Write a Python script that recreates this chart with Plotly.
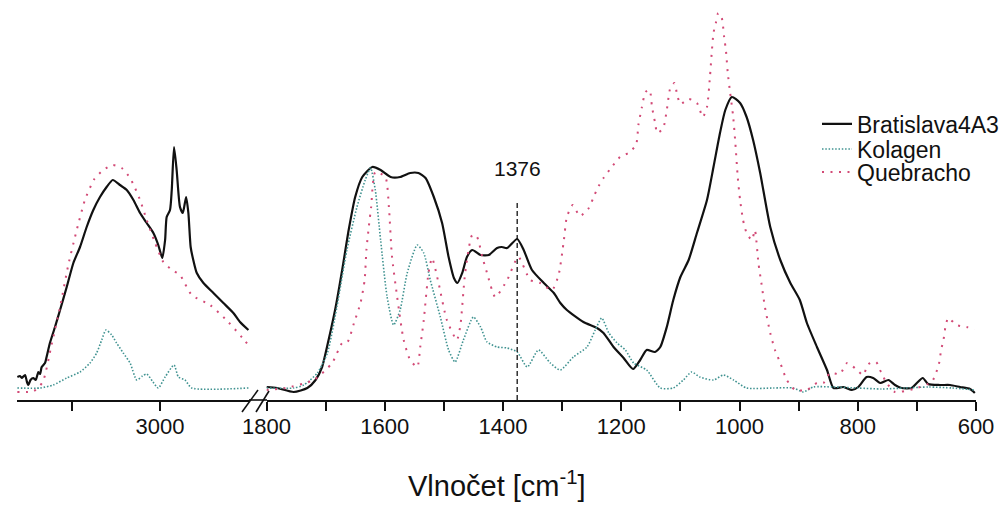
import plotly.graph_objects as go

# ---------------- data (wavenumber cm-1, intensity a.u.) ----------------
# High-wavenumber window (left panel)
bratislava_hi_wn = [3815, 3800, 3790, 3771, 3760, 3752, 3740, 3724, 3710, 3695, 3685, 3676, 3657,
                    3648, 3629, 3600, 3571, 3533, 3495, 3457, 3419, 3381, 3343, 3305, 3270,
                    3229, 3190, 3152, 3114, 3076, 3038, 3010, 2987, 2971, 2962, 2943, 2933,
                    2920, 2905, 2886, 2870, 2851, 2838, 2825, 2810, 2790, 2752, 2695, 2638,
                    2581, 2543, 2495]
bratislava_hi = [23, 24, 22, 25, 18, 15, 20, 22, 20, 28, 26, 33, 37,
                 43, 57, 73, 90, 113, 137, 153, 173, 190, 203, 213, 220,
                 215, 210, 200, 187, 177, 167, 155, 142, 160, 183, 190, 210,
                 253, 230, 193, 187, 203, 187, 153, 140, 127, 117, 107, 97,
                 87, 78, 70]

kolagen_hi_wn = [3815, 3686, 3610, 3533, 3457, 3400, 3362, 3333, 3309, 3276, 3248, 3210,
                 3171, 3133, 3100, 3076, 3040, 3010, 2971, 2920, 2895, 2857, 2819, 2495]
kolagen_hi = [12, 12, 15, 22, 28, 37, 47, 60, 70, 65, 57, 47,
              37, 20, 24, 26, 18, 12, 23, 35, 23, 20, 12, 12]

quebracho_hi_wn = [3815, 3720, 3670, 3620, 3571, 3524, 3480, 3429, 3375, 3324, 3270, 3219,
                   3171, 3143, 3114, 3076, 3030, 2981, 2930, 2886, 2819, 2714, 2610, 2514, 2495]
quebracho_hi = [8, 9, 18, 55, 93, 135, 167, 200, 221, 230, 235, 232,
                222, 212, 200, 180, 158, 138, 130, 125, 105, 95, 78, 59, 55]

# Fingerprint window (right panel)
bratislava_lo_wn = [1800, 1782, 1754, 1731, 1717, 1706, 1695, 1683, 1672, 1661,
                    1650, 1638, 1621, 1607, 1590, 1574, 1557, 1543, 1531, 1517,
                    1503, 1492, 1483, 1477, 1469, 1461, 1452, 1438, 1424, 1410,
                    1402, 1393, 1376, 1365, 1351, 1331, 1314, 1303, 1292, 1264,
                    1241, 1230, 1213, 1196, 1180, 1168, 1157, 1143, 1134, 1123,
                    1112, 1100, 1086, 1072, 1055, 1044, 1033, 1024, 1013, 999,
                    988, 977, 965, 948, 931, 914, 898, 886, 869, 852,
                    841, 824, 810, 799, 785, 774, 762, 748, 737, 726,
                    709, 700, 690, 681, 661, 644, 627, 610, 602]
bratislava_lo = [13, 12, 8, 12, 20, 33, 60, 93, 130, 170,
                 203, 223, 233, 230, 223, 223, 227, 227, 222, 203,
                 177, 143, 122, 117, 127, 143, 150, 145, 145, 152,
                 153, 152, 161, 150, 130, 117, 107, 97, 90, 78,
                 72, 67, 53, 42, 31, 40, 50, 48, 53, 73,
                 100, 123, 140, 167, 200, 233, 267, 290, 303, 297,
                 283, 260, 227, 173, 140, 117, 100, 77, 53, 30,
                 12, 13, 10, 13, 23, 22, 17, 20, 15, 12,
                 12, 17, 22, 16, 15, 15, 13, 11, 7]

kolagen_lo_wn = [1800, 1754, 1737, 1714, 1697, 1681, 1664, 1647, 1633, 1624,
                 1616, 1607, 1596, 1585, 1574, 1562, 1545, 1534, 1523, 1506,
                 1492, 1481, 1467, 1450, 1438, 1427, 1410, 1393, 1376, 1359,
                 1340, 1320, 1303, 1281, 1258, 1244, 1233, 1221, 1207, 1193,
                 1179, 1157, 1134, 1112, 1095, 1081, 1067, 1044, 1027, 1010,
                 988, 943, 909, 892, 875, 841, 800, 760, 720, 680, 640, 602]
kolagen_lo = [12, 12, 15, 27, 47, 93, 150, 193, 220, 232,
              210, 160, 103, 75, 90, 127, 155, 147, 120, 83,
              50, 38, 60, 83, 73, 58, 53, 52, 48, 33,
              50, 37, 30, 43, 53, 70, 82, 67, 57, 50,
              37, 30, 12, 12, 20, 28, 23, 20, 25, 20,
              12, 12, 12, 8, 13, 13, 12, 11, 12, 13, 12, 10]

quebracho_lo_wn = [1800, 1768, 1720, 1689, 1672, 1663, 1652, 1641, 1634, 1631,
                   1627, 1623, 1616, 1599, 1593, 1588, 1579, 1568, 1557, 1545,
                   1540, 1534, 1526, 1520, 1509, 1495, 1478, 1472, 1464, 1452,
                   1444, 1435, 1427, 1413, 1393, 1374, 1354, 1337, 1317, 1306,
                   1297, 1292, 1282, 1270, 1256, 1248, 1240, 1230, 1216, 1202,
                   1188, 1175, 1171, 1165, 1159, 1152, 1148, 1143, 1139, 1129,
                   1123, 1117, 1110, 1106, 1100, 1086, 1072, 1062, 1055, 1050,
                   1047, 1044, 1040, 1036, 1030, 1026, 1023, 1020, 1016, 1011,
                   1007, 1003, 999, 994, 988, 979, 974, 968, 962, 957,
                   948, 940, 931, 920, 906, 886, 869, 858, 847, 830,
                   818, 803, 791, 782, 769, 760, 751, 737, 706, 675,
                   667, 662, 659, 655, 652, 647, 633, 616, 602]
quebracho_lo = [10, 12, 20, 37, 57, 58, 77, 97, 120, 150,
                173, 193, 228, 223, 193, 145, 103, 60, 40, 33,
                53, 80, 127, 142, 117, 80, 60, 75, 127, 165,
                163, 143, 127, 103, 120, 143, 120, 117, 110, 125,
                160, 183, 195, 184, 191, 201, 212, 222, 233, 243,
                247, 255, 275, 293, 308, 310, 293, 278, 267, 272,
                290, 312, 317, 307, 296, 301, 297, 283, 293, 323,
                347, 367, 377, 387, 382, 363, 350, 328, 308, 285,
                257, 223, 200, 180, 167, 160, 170, 137, 113, 93,
                67, 50, 37, 20, 10, 10, 17, 17, 27, 26,
                37, 31, 25, 36, 38, 27, 17, 8, 11, 18,
                28, 38, 50, 60, 72, 82, 75, 73, 71]

marker_wn = 1376
marker_top = 200
marker_label = "1376"

hi_ticks = [3000]
hi_ticklabels = ["3000"]
hi_minor = [3500]
lo_ticks = [1800, 1600, 1400, 1200, 1000, 800, 600]
lo_ticklabels = ["1800", "1600", "1400", "1200", "1000", "800", "600"]
lo_minor = [1700, 1500, 1300, 1100, 900, 700]

series_names = ["Bratislava4A3", "Kolagen", "Quebracho"]
x_title = "Vlnočet [cm<sup>-1</sup>]"

# ---------------- styling ----------------
W, H = 999, 505
PLOT_H = 400
FONT = "Liberation Sans, Arial, sans-serif"
BLACK = "#111111"
TEAL = "#3f9290"
RED = "#d24a76"

def px(x):
    return x / W

def py(y):
    return 1 - y / PLOT_H

styles = {
    "Bratislava4A3": dict(color=BLACK, width=2.2, dash="solid"),
    "Kolagen": dict(color=TEAL, width=1.6, dash="1.5px,1.8px"),
    "Quebracho": dict(color=RED, width=2.0, dash="2px,6.5px"),
}

fig = go.Figure()

panels = [
    ("x", [bratislava_hi_wn, kolagen_hi_wn, quebracho_hi_wn],
     [bratislava_hi, kolagen_hi, quebracho_hi], False),
    ("x2", [bratislava_lo_wn, kolagen_lo_wn, quebracho_lo_wn],
     [bratislava_lo, kolagen_lo, quebracho_lo], True),
]
legend_ids = ["legend", "legend2", "legend3"]
for xa, xs, ys, show in panels:
    for i, name in enumerate(series_names):
        fig.add_trace(go.Scatter(
            x=xs[i], y=ys[i], mode="lines", name=name,
            line=dict(shape="spline", smoothing=0.6, **styles[name]),
            xaxis=xa, yaxis="y", showlegend=show, legend=legend_ids[i],
            hoverinfo="skip"))

# reference line at 1376
fig.add_trace(go.Scatter(
    x=[marker_wn, marker_wn], y=[0, marker_top], mode="lines",
    line=dict(color=BLACK, width=1.3, dash="5px,3px"),
    xaxis="x2", yaxis="y", showlegend=False, hoverinfo="skip"))

axis_common = dict(
    showline=True, linecolor=BLACK, linewidth=1.6, mirror=False,
    ticks="outside", ticklen=9, tickwidth=1.6, tickcolor=BLACK,
    showgrid=False, zeroline=False, anchor="y", automargin=False,
    ticklabelstandoff=-3,
    tickfont=dict(family=FONT, size=22, color=BLACK),
)

fig.update_layout(
    width=W, height=H,
    margin=dict(l=0, r=0, t=0, b=H - PLOT_H, autoexpand=False),
    paper_bgcolor="white", plot_bgcolor="white",
    xaxis=dict(domain=[px(17), px(250)], range=[3817, 2486],
               tickmode="array", tickvals=hi_ticks, ticktext=hi_ticklabels,
               minor=dict(tickmode="array", tickvals=hi_minor, ticks="outside",
                          ticklen=9, tickwidth=1.6, tickcolor=BLACK, showgrid=False),
               **axis_common),
    xaxis2=dict(domain=[px(266.5), px(976)], range=[1800, 600],
                tickmode="array", tickvals=lo_ticks, ticktext=lo_ticklabels,
                minor=dict(tickmode="array", tickvals=lo_minor, ticks="outside",
                           ticklen=9, tickwidth=1.6, tickcolor=BLACK, showgrid=False),
                **axis_common),
    yaxis=dict(domain=[0, 1], range=[0, PLOT_H], visible=False),
    showlegend=True,
)

legend_rows = [124, 149, 172]
for lid, yrow in zip(legend_ids, legend_rows):
    fig.update_layout({lid: dict(
        x=px(817), y=py(yrow), xanchor="left", yanchor="middle",
        bgcolor="rgba(0,0,0,0)", borderwidth=0,
        font=dict(family=FONT, size=23, color=BLACK),
        itemwidth=30, tracegroupgap=0,
    )})

# marker label
fig.add_annotation(x=marker_wn, y=PLOT_H - 168, xref="x2", yref="y",
                   text=marker_label, showarrow=False, yanchor="middle",
                   font=dict(family=FONT, size=21, color=BLACK))

# axis title
fig.add_annotation(x=px(496.5), y=py(484), xref="paper", yref="paper",
                   text=x_title, showarrow=False, xanchor="center", yanchor="middle",
                   font=dict(family=FONT, size=29, color=BLACK))

# axis break marks
for (x0, y0, x1, y1) in [(242, 412, 258, 390), (256, 412, 269, 391)]:
    fig.add_shape(type="line", xref="paper", yref="paper",
                  x0=px(x0), y0=py(y0), x1=px(x1), y1=py(y1),
                  line=dict(color=BLACK, width=1.6))
fig.add_shape(type="line", xref="paper", yref="paper",
              x0=px(249), y0=py(PLOT_H), x1=px(267), y1=py(PLOT_H),
              line=dict(color=BLACK, width=1.6))

# remove the default page margin so the figure sits at the window's top-left corner
fig.write_html("out.html", config={"displayModeBar": False},
               post_script="document.body.style.margin='0';")
